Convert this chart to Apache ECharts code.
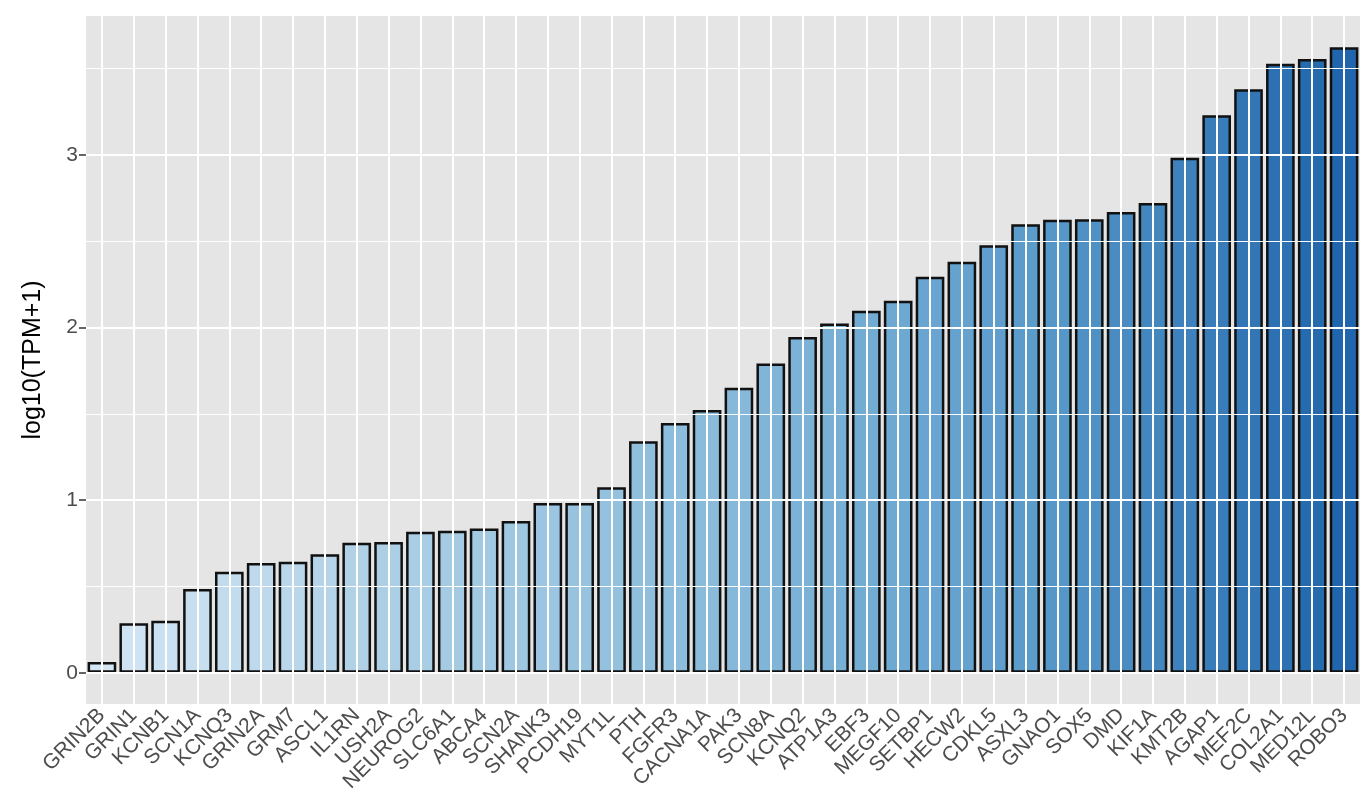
<!DOCTYPE html>
<html>
<head>
<meta charset="utf-8">
<script src="https://cdn.jsdelivr.net/npm/echarts@6/dist/echarts.min.js"></script>
<style>
  html, body { margin: 0; padding: 0; background: #fff; }
  #chart { width: 1360px; height: 795px; }
</style>
</head>
<body>
<div id="chart"></div>
<script>
// gene names, sorted by expression
var genes = ['GRIN2B', 'GRIN1', 'KCNB1', 'SCN1A', 'KCNQ3', 'GRIN2A', 'GRM7', 'ASCL1', 'IL1RN', 'USH2A',
  'NEUROG2', 'SLC6A1', 'ABCA4', 'SCN2A', 'SHANK3', 'PCDH19', 'MYT1L', 'PTH', 'FGFR3', 'CACNA1A',
  'PAK3', 'SCN8A', 'KCNQ2', 'ATP1A3', 'EBF3', 'MEGF10', 'SETBP1', 'HECW2', 'CDKL5', 'ASXL3',
  'GNAO1', 'SOX5', 'DMD', 'KIF1A', 'KMT2B', 'AGAP1', 'MEF2C', 'COL2A1', 'MED12L', 'ROBO3'];

// log10(TPM+1)
var values = [0.062, 0.287, 0.302, 0.486, 0.585, 0.636, 0.643, 0.686, 0.753, 0.757,
  0.817, 0.823, 0.836, 0.879, 0.984, 0.984, 1.075, 1.341, 1.447, 1.522,
  1.651, 1.792, 1.946, 2.023, 2.097, 2.155, 2.294, 2.381, 2.477, 2.599,
  2.624, 2.628, 2.670, 2.722, 2.984, 3.230, 3.380, 3.528, 3.556, 3.624];

var yTicks = [0, 1, 2, 3];
var yMinor = [0.5, 1.5, 2.5, 3.5];

var chart = echarts.init(document.getElementById('chart'));
var font = 'Liberation Sans, Arial, sans-serif';

// white panel grid lines (ggplot style), drawn behind the bars
var gridLines = [];
yTicks.forEach(function (v) {
  gridLines.push({ yAxis: v, lineStyle: { color: '#fff', width: 2, type: 'solid' } });
});
yMinor.forEach(function (v) {
  gridLines.push({ yAxis: v, lineStyle: { color: '#fff', width: 1, type: 'solid' } });
});
genes.forEach(function (g) {
  gridLines.push({ xAxis: g, lineStyle: { color: '#fff', width: 2, type: 'solid' } });
});

var option = {
  backgroundColor: '#fff',
  animation: false,
  textStyle: { fontFamily: font },
  grid: {
    left: 86, right: -3, top: 16, bottom: 89,
    show: true, backgroundColor: '#E5E5E5', borderWidth: 0
  },
  xAxis: {
    type: 'category',
    data: genes,
    boundaryGap: true,
    axisLine: { show: false },
    axisTick: { show: true, alignWithLabel: true, length: 6, lineStyle: { color: '#333', width: 1.5 } },
    axisLabel: { rotate: 45, interval: 0, color: '#4D4D4D', fontSize: 21, margin: 8, fontFamily: font },
    splitLine: { show: false }
  },
  yAxis: {
    type: 'value',
    min: -0.181,
    max: 3.805,
    name: 'log10(TPM+1)',
    nameLocation: 'middle',
    nameGap: 40,
    nameTextStyle: { color: '#000', fontSize: 25, fontFamily: font },
    axisLine: { show: false },
    axisTick: { show: true, length: 7, customValues: yTicks, lineStyle: { color: '#333', width: 1.5 } },
    axisLabel: { customValues: yTicks, color: '#4D4D4D', fontSize: 21, margin: 8, fontFamily: font },
    splitLine: { show: false }
  },
  visualMap: {
    show: false,
    type: 'continuous',
    seriesIndex: 1,
    dimension: 0,
    min: 0,
    max: genes.length - 1,
    inRange: { color: ['#D4E5F4', '#A9CDE4', '#88BADA', '#5A9BCB', '#2166AC'] }
  },
  series: [
    {
      type: 'line',
      data: [],
      z: 1,
      silent: true,
      markLine: {
        silent: true,
        symbol: 'none',
        label: { show: false },
        animation: false,
        data: gridLines
      }
    },
    {
      type: 'bar',
      data: values,
      z: 2,
      barCategoryGap: '10%',
      itemStyle: { borderColor: '#111', borderWidth: 2.5 }
    }
  ]
};
chart.setOption(option);
</script>
</body>
</html>
